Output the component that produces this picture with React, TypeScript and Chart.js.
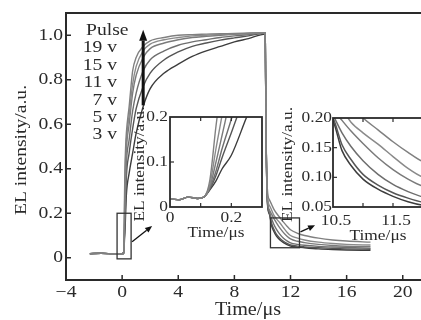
import React, { useEffect, useRef } from 'react';
import { Chart, registerables } from 'chart.js';
Chart.register(...registerables);

// ---- data ----
const timeUs = [
  -2.3, -1.5, -0.5, 0, 0.03, 0.06, 0.09, 0.11,
  0.13, 0.15, 0.17, 0.2, 0.25, 0.3, 0.5, 0.75, 1, 1.5, 2, 3, 4, 5, 6, 7, 8, 9, 10.2,
  10.25, 10.35, 10.5, 10.65, 10.8, 11, 11.25, 11.5, 11.75, 12, 12.5, 13, 14, 15, 16, 17.7,
];

const pulseVoltages = ['19 v', '15 v', '11 v', '7 v', '5 v', '3 v'];

const el19 = [
  0.018, 0.02, 0.017, 0.018, 0.016, 0.022, 0.019, 0.022,
  0.06, 0.18, 0.28, 0.4, 0.5, 0.56, 0.68, 0.84, 0.9, 0.95, 0.975, 0.99, 1.0, 1.003, 1.005, 1.007, 1.008, 1.01, 1.012,
  0.6, 0.31, 0.26, 0.24, 0.22, 0.2, 0.18, 0.16, 0.142, 0.126, 0.11, 0.1, 0.088, 0.08, 0.075, 0.07,
];
const el15 = [
  0.018, 0.02, 0.017, 0.018, 0.016, 0.022, 0.019, 0.022,
  0.05, 0.13, 0.205, 0.33, 0.45, 0.52, 0.64, 0.78, 0.86, 0.93, 0.96, 0.98, 0.99, 0.997, 1.0, 1.004, 1.006, 1.008, 1.012,
  0.6, 0.285, 0.235, 0.215, 0.193, 0.175, 0.156, 0.135, 0.115, 0.1, 0.088, 0.08, 0.07, 0.064, 0.06, 0.057,
];
const el11 = [
  0.018, 0.02, 0.017, 0.018, 0.016, 0.022, 0.019, 0.022,
  0.045, 0.1, 0.16, 0.25, 0.38, 0.48, 0.6, 0.74, 0.82, 0.9, 0.94, 0.965, 0.98, 0.99, 0.995, 1.0, 1.004, 1.007, 1.012,
  0.6, 0.27, 0.215, 0.196, 0.178, 0.157, 0.133, 0.113, 0.097, 0.085, 0.074, 0.068, 0.06, 0.055, 0.052, 0.05,
];
const el7 = [
  0.018, 0.02, 0.017, 0.018, 0.016, 0.022, 0.019, 0.022,
  0.042, 0.08, 0.13, 0.195, 0.31, 0.42, 0.53, 0.66, 0.74, 0.84, 0.89, 0.93, 0.955, 0.97, 0.98, 0.99, 0.997, 1.003, 1.01,
  0.6, 0.265, 0.205, 0.175, 0.152, 0.128, 0.105, 0.088, 0.076, 0.067, 0.06, 0.056, 0.051, 0.048, 0.046, 0.043,
];
const el5 = [
  0.018, 0.02, 0.017, 0.018, 0.016, 0.022, 0.019, 0.022,
  0.04, 0.07, 0.11, 0.165, 0.26, 0.36, 0.47, 0.58, 0.67, 0.77, 0.83, 0.89, 0.925, 0.95, 0.965, 0.978, 0.988, 0.997, 1.01,
  0.6, 0.255, 0.2, 0.155, 0.13, 0.105, 0.087, 0.074, 0.065, 0.058, 0.052, 0.049, 0.045, 0.042, 0.04, 0.038,
];
const el3 = [
  0.018, 0.02, 0.017, 0.018, 0.016, 0.022, 0.019, 0.022,
  0.038, 0.058, 0.085, 0.115, 0.2, 0.28, 0.38, 0.47, 0.56, 0.68, 0.76, 0.83, 0.87, 0.905, 0.93, 0.95, 0.97, 0.985, 1.005,
  0.6, 0.25, 0.195, 0.145, 0.12, 0.097, 0.08, 0.068, 0.059, 0.053, 0.048, 0.045, 0.04, 0.037, 0.035, 0.033,
];

const seriesList = [el19, el15, el11, el7, el5, el3];
const seriesColors = ['#808080', '#8a8a8a', '#7a7a7a', '#6e6e6e', '#555555', '#3c3c3c'];

const mainXTicks = [-4, 0, 4, 8, 12, 16, 20];
const mainYTicks = [0, 0.2, 0.4, 0.6, 0.8, 1.0];
const inset1XTicks = [0.1, 0.2];
const inset1XLabels = [0, 0.2];
const inset1YTicks = [0.1];
const inset1YLabels = [0, 0.1, 0.2];
const inset2XTicks = [11, 11.5];
const inset2XLabels = [10.5, 11.5];
const inset2YTicks = [0.1, 0.15];
const inset2YLabels = [0.05, 0.1, 0.15, 0.2];

// zoom boxes & arrows (in data coordinates of the main plot)
const zoomBox1 = { x0: -0.36, x1: 0.64, y0: -0.005, y1: 0.2 };
const zoomBox2 = { x0: 10.57, x1: 12.64, y0: 0.045, y1: 0.179 };
const zoomArrow1 = { x0: 0.71, y0: 0.072, x1: 2.14, y1: 0.143 };
const zoomArrow2 = { x0: 12.71, y0: 0.116, x1: 13.75, y1: 0.146 };
const pulseArrow = { x: 1.5, y0: 0.685, y1: 1.025 };

// ---- drawing helpers ----
const FONT = '"Liberation Serif", "Times New Roman", serif';
const SX = 1.12;
const INK = '#2a2a2a';

function drawText(ctx: CanvasRenderingContext2D, s: string, x: number, y: number, align: string, size: number, baseline: CanvasTextBaseline = 'alphabetic') {
  ctx.save();
  ctx.font = `${size}px ${FONT}`;
  ctx.textBaseline = baseline;
  ctx.textAlign = 'left';
  const w = ctx.measureText(s).width * SX;
  const x0 = align === 'left' ? x : align === 'right' ? x - w : x - w / 2;
  ctx.translate(x0, y);
  ctx.scale(SX, 1);
  ctx.fillStyle = INK;
  ctx.fillText(s, 0, 0);
  ctx.restore();
}

function drawVText(ctx: CanvasRenderingContext2D, s: string, cx: number, cy: number, size: number) {
  ctx.save();
  ctx.font = `${size}px ${FONT}`;
  ctx.translate(cx, cy);
  ctx.rotate(-Math.PI / 2);
  ctx.scale(SX, 1);
  ctx.textAlign = 'center';
  ctx.textBaseline = 'middle';
  ctx.fillStyle = INK;
  ctx.fillText(s, 0, 0);
  ctx.restore();
}

function drawArrow(ctx: CanvasRenderingContext2D, x1: number, y1: number, x2: number, y2: number, lw: number, head: number, headW: number) {
  const a = Math.atan2(y2 - y1, x2 - x1);
  const bx = x2 - head * Math.cos(a);
  const by = y2 - head * Math.sin(a);
  ctx.save();
  ctx.strokeStyle = '#111';
  ctx.fillStyle = '#111';
  ctx.lineWidth = lw;
  ctx.beginPath();
  ctx.moveTo(x1, y1);
  ctx.lineTo(bx, by);
  ctx.stroke();
  ctx.beginPath();
  ctx.moveTo(x2, y2);
  ctx.lineTo(bx + (headW / 2) * Math.sin(a), by - (headW / 2) * Math.cos(a));
  ctx.lineTo(bx - (headW / 2) * Math.sin(a), by + (headW / 2) * Math.cos(a));
  ctx.closePath();
  ctx.fill();
  ctx.restore();
}

function line(ctx: CanvasRenderingContext2D, x1: number, y1: number, x2: number, y2: number) {
  ctx.beginPath();
  ctx.moveTo(x1, y1);
  ctx.lineTo(x2, y2);
  ctx.stroke();
}

function buildDatasets(lw: number) {
  return seriesList.map((vals, i) => ({
    label: pulseVoltages[i],
    data: timeUs.map((t, j) => ({ x: t, y: vals[j] })),
    borderColor: seriesColors[i],
    borderWidth: lw,
    pointRadius: 0,
    cubicInterpolationMode: 'monotone' as const,
    fill: false,
  }));
}

function linScale(min: number, max: number, size: number, isX: boolean) {
  return {
    type: 'linear' as const,
    min,
    max,
    ticks: { display: false },
    grid: { display: false },
    border: { display: false },
    afterFit: (s: any) => {
      if (isX) s.height = size;
      else s.width = size;
    },
  };
}

function baseOptions(padding: any, xs: any, ys: any) {
  return {
    animation: false as const,
    responsive: false,
    devicePixelRatio: 1,
    events: [] as any[],
    layout: { padding },
    plugins: { legend: { display: false }, tooltip: { enabled: false } },
    scales: { x: xs, y: ys },
  };
}

const fmtMinus = (v: number) => (v < 0 ? '\u2212' + Math.abs(v) : String(v));

// ---- main chart ----
function mainConfig(): any {
  const decor = {
    id: 'mainDecor',
    afterDatasetsDraw(chart: any) {
      const { ctx, chartArea: ca, scales } = chart;
      const x = scales.x;
      const y = scales.y;
      ctx.save();
      ctx.strokeStyle = INK;
      ctx.lineWidth = 2;
      ctx.beginPath();
      ctx.moveTo(ca.right + 2, ca.top);
      ctx.lineTo(ca.left, ca.top);
      ctx.lineTo(ca.left, ca.bottom);
      ctx.lineTo(ca.right + 2, ca.bottom);
      ctx.stroke();
      ctx.lineWidth = 1.5;
      mainXTicks.forEach((v) => {
        const px = x.getPixelForValue(v);
        if (v > x.min) line(ctx, px, ca.bottom, px, ca.bottom - 5);
        drawText(ctx, fmtMinus(v), px, ca.bottom + 17, 'center', 17.5);
      });
      mainYTicks.forEach((v) => {
        const py = y.getPixelForValue(v);
        line(ctx, ca.left, py, ca.left + 5, py);
        drawText(ctx, v === 0 ? '0' : v.toFixed(1), ca.left - 3, py, 'right', 17.5, 'middle');
      });
      drawText(ctx, 'Time/\u03bcs', 248, 315, 'center', 18);
      drawVText(ctx, 'EL intensity/a.u.', 21, 150, 17.5);

      // legend text
      drawText(ctx, 'Pulse', ca.left + 20, ca.top + 22, 'left', 17.5);
      pulseVoltages.forEach((s, i) => {
        drawText(ctx, s, ca.left + 51, ca.top + 39.4 + 17.4 * i, 'right', 17.5);
      });

      // zoom boxes
      ctx.lineWidth = 1.3;
      ctx.strokeStyle = '#333';
      [zoomBox1, zoomBox2].forEach((b) => {
        const l = x.getPixelForValue(b.x0);
        const r = x.getPixelForValue(b.x1);
        const t = y.getPixelForValue(b.y1);
        const bt = y.getPixelForValue(b.y0);
        ctx.strokeRect(l, t, r - l, bt - t);
      });
      [zoomArrow1, zoomArrow2].forEach((a) => {
        drawArrow(ctx, x.getPixelForValue(a.x0), y.getPixelForValue(a.y0), x.getPixelForValue(a.x1), y.getPixelForValue(a.y1), 1.3, 7, 6);
      });
      const ax = x.getPixelForValue(pulseArrow.x);
      drawArrow(ctx, ax, y.getPixelForValue(pulseArrow.y0), ax, y.getPixelForValue(pulseArrow.y1), 3, 11, 8);
      ctx.restore();
    },
  };
  return {
    type: 'line',
    data: { datasets: buildDatasets(1.4) },
    options: baseOptions({ top: 13, left: 0, right: 0, bottom: 0 }, linScale(-4, 21.3, 40, true), linScale(-0.1, 1.1, 66, false)),
    plugins: [decor],
  };
}

// ---- inset 1 (rise) ----
function inset1Config(): any {
  const decor = {
    id: 'in1Decor',
    beforeDatasetsDraw(chart: any) {
      const { ctx, chartArea: ca } = chart;
      ctx.save();
      ctx.fillStyle = '#fff';
      ctx.fillRect(ca.left, ca.top, ca.right - ca.left, ca.bottom - ca.top);
      ctx.restore();
    },
    afterDatasetsDraw(chart: any) {
      const { ctx, chartArea: ca, scales } = chart;
      const x = scales.x;
      const y = scales.y;
      ctx.save();
      ctx.strokeStyle = INK;
      ctx.lineWidth = 1.8;
      ctx.strokeRect(ca.left, ca.top, ca.right - ca.left, ca.bottom - ca.top);
      ctx.lineWidth = 1.2;
      inset1XTicks.forEach((v) => {
        const px = x.getPixelForValue(v);
        line(ctx, px, ca.bottom, px, ca.bottom - 4);
        line(ctx, px, ca.top, px, ca.top + 4);
      });
      inset1YTicks.forEach((v) => {
        const py = y.getPixelForValue(v);
        line(ctx, ca.left, py, ca.left + 4, py);
      });
      inset1XLabels.forEach((v) => {
        drawText(ctx, String(v), x.getPixelForValue(v), ca.bottom + 15, 'center', 15.5);
      });
      inset1YLabels.forEach((v) => {
        drawText(ctx, String(v), ca.left - 2, y.getPixelForValue(v), 'right', 15.5, 'middle');
      });
      drawText(ctx, 'Time/\u03bcs', (ca.left + ca.right) / 2, ca.bottom + 30, 'center', 15.5);
      drawVText(ctx, 'EL intensity/a.u.', ca.left - 30, (ca.top + ca.bottom) / 2 + 2, 15.5);
      ctx.restore();
    },
  };
  return {
    type: 'line',
    data: { datasets: buildDatasets(1.4) },
    options: baseOptions({ top: 17, left: 0, right: 8, bottom: 0 }, linScale(0, 0.3, 43, true), linScale(0, 0.2, 45, false)),
    plugins: [decor],
  };
}

// ---- inset 2 (decay) ----
function inset2Config(): any {
  const decor = {
    id: 'in2Decor',
    beforeDatasetsDraw(chart: any) {
      const { ctx, chartArea: ca } = chart;
      ctx.save();
      ctx.fillStyle = '#fff';
      ctx.fillRect(ca.left, ca.top, ca.right - ca.left, ca.bottom - ca.top);
      ctx.restore();
    },
    afterDatasetsDraw(chart: any) {
      const { ctx, chartArea: ca, scales } = chart;
      const x = scales.x;
      const y = scales.y;
      ctx.save();
      ctx.strokeStyle = INK;
      ctx.lineWidth = 1.8;
      ctx.strokeRect(ca.left, ca.top, ca.right - ca.left, ca.bottom - ca.top);
      ctx.lineWidth = 1.2;
      inset2XTicks.forEach((v) => {
        const px = x.getPixelForValue(v);
        line(ctx, px, ca.bottom, px, ca.bottom - 4);
        line(ctx, px, ca.top, px, ca.top + 4);
      });
      inset2YTicks.forEach((v) => {
        const py = y.getPixelForValue(v);
        line(ctx, ca.left, py, ca.left + 4, py);
      });
      inset2XLabels.forEach((v) => {
        drawText(ctx, v.toFixed(1), x.getPixelForValue(v) + 3, ca.bottom + 18, 'center', 15.5);
      });
      inset2YLabels.forEach((v) => {
        drawText(ctx, v.toFixed(2), ca.left - 1, y.getPixelForValue(v), 'right', 15.5, 'middle');
      });
      drawText(ctx, 'Time/\u03bcs', ca.left + 45, ca.bottom + 33, 'center', 15.5);
      drawVText(ctx, 'EL intensity/a.u.', ca.left - 45, (ca.top + ca.bottom) / 2 + 2, 15.5);
      ctx.restore();
    },
  };
  return {
    type: 'line',
    data: { datasets: buildDatasets(1.5) },
    options: baseOptions({ top: 18, left: 0, right: 12, bottom: 0 }, linScale(10.5, 12, 43, true), linScale(0.05, 0.2, 58, false)),
    plugins: [decor],
  };
}

export default function App() {
  const mainRef = useRef<HTMLCanvasElement>(null);
  const in1Ref = useRef<HTMLCanvasElement>(null);
  const in2Ref = useRef<HTMLCanvasElement>(null);

  useEffect(() => {
    const charts = [
      new Chart(mainRef.current as HTMLCanvasElement, mainConfig()),
      new Chart(in1Ref.current as HTMLCanvasElement, inset1Config()),
      new Chart(in2Ref.current as HTMLCanvasElement, inset2Config()),
    ];
    return () => charts.forEach((c) => c.destroy());
  }, []);

  return (
    <div style={{ position: 'fixed', left: 0, top: 0, width: 421, height: 320, overflow: 'hidden', background: '#fff' }}>
      <canvas ref={mainRef} width={421} height={320} style={{ position: 'absolute', left: 0, top: 0, width: 421, height: 320 }} />
      <canvas ref={in1Ref} width={145} height={150} style={{ position: 'absolute', left: 125, top: 100, width: 145, height: 150 }} />
      <canvas ref={in2Ref} width={160} height={150} style={{ position: 'absolute', left: 275, top: 100, width: 160, height: 150 }} />
    </div>
  );
}
